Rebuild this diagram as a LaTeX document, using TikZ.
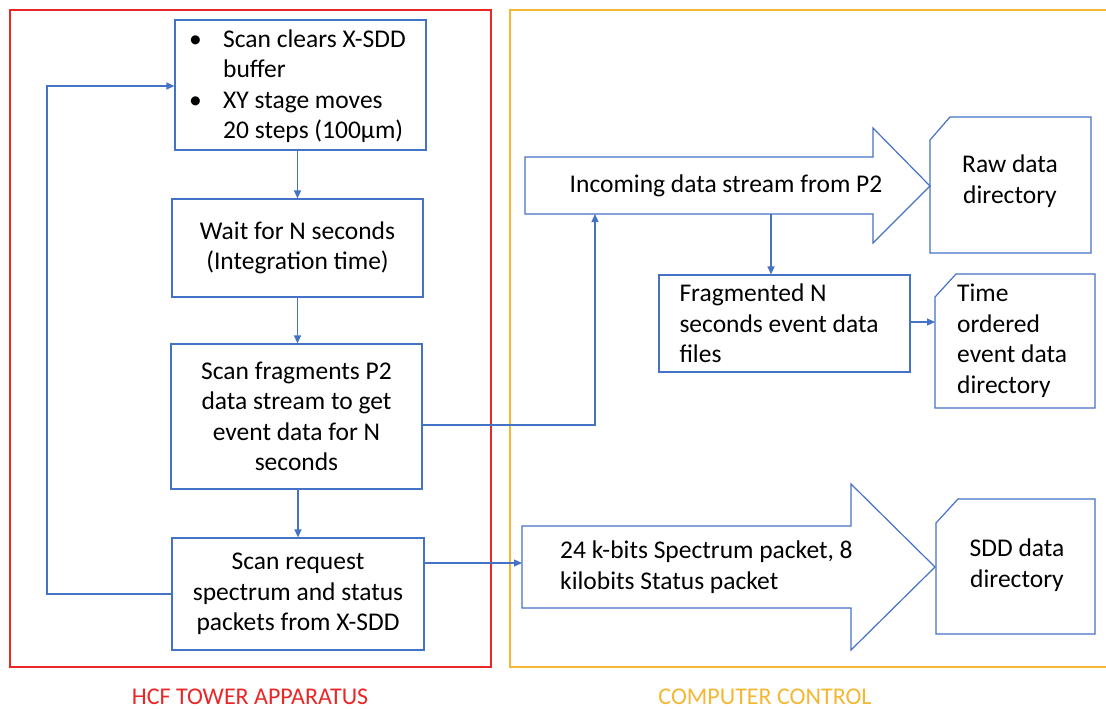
\documentclass[tikz,border=0pt]{standalone}
\usepackage{fontspec}
\setmainfont{Carlito}
\usetikzlibrary{arrows.meta}
\definecolor{bl}{RGB}{68,114,196}
\definecolor{rd}{RGB}{234,38,38}
\definecolor{og}{RGB}{244,183,49}
\begin{document}
\begin{tikzpicture}[x=1pt,y=-1pt,
  boxfont/.style={font=\fontsize{25.5}{30.5}\selectfont},
  box/.style={draw=bl, line width=1.2pt, inner sep=0pt, align=center, boxfont},
  txt/.style={inner sep=0pt, boxfont},
  shapeline/.style={draw=bl, line width=1.2pt, line join=miter},
  conn/.style={draw=bl, line width=1.2pt, -{Triangle[length=8pt,width=7pt]}},
  frame/.style={line width=2pt},
  lbl/.style={inner sep=0pt, font=\fontsize{24}{29}\selectfont}]
\useasboundingbox (0,0) rectangle (1106,709);

% frames
\draw[frame, draw=rd] (10,10) rectangle (491,667);
\draw[frame, draw=og] (510,10) rectangle (1112,667);
\node[lbl, text=rd] (lblA) at (250,697) {HCF TOWER APPARATUS};
\node[lbl, text=og] (lblB) at (765,697) {COMPUTER CONTROL};

% left column boxes
\node[box, minimum width=251pt, minimum height=130pt] (b1) at (300.5,85) {};
\node[txt, anchor=west] (b1t) at (189,87) {\begin{tabular}{@{}p{34pt}@{}l@{}}
\textbullet & Scan clears X-SDD\\
 & buffer\\
\textbullet & XY stage moves\\
 & 20 steps (100µm)
\end{tabular}};
\node[box, minimum width=251pt, minimum height=98pt] (b2) at (297.5,248)
  {Wait for N seconds\\(Integration time)};
\node[box, minimum width=251pt, minimum height=145pt] (b3) at (296.5,416.5)
  {Scan fragments P2\\data stream to get\\event data for N\\seconds};
\node[box, minimum width=252pt, minimum height=112pt] (b4) at (298,594)
  {Scan request\\spectrum and status\\packets from X-SDD};

% incoming arrow shape
\draw[shapeline] (525,157) -- (873,157) -- (873,128) -- (930,186) -- (873,243)
  -- (873,214) -- (525,214) -- cycle;
\node[txt] (inc) at (726,186) {Incoming data stream from P2};

% spectrum arrow shape
\draw[shapeline] (522,526) -- (851,526) -- (851,484) -- (935,567) -- (851,650)
  -- (851,608) -- (522,608) -- cycle;
\node[txt, anchor=west, align=flush left] (spec) at (560,567)
  {24 k-bits Spectrum packet, 8\\kilobits Status packet};

% raw data directory
\draw[shapeline] (930,140) -- (950,117) -- (1091,117) -- (1091,253) -- (930,253) -- cycle;
\node[txt, align=center] (raw) at (1010,181) {Raw data\\directory};

% fragmented box
\node[box, minimum width=251pt, minimum height=97pt, align=flush left, text width=210pt] (frag)
  at (784.5,323.5) {Fragmented N\\seconds event data\\files};

% time ordered directory
\draw[shapeline] (935,297) -- (956,274) -- (1095,274) -- (1095,408) -- (935,408) -- cycle;
\node[txt, anchor=west, align=flush left] (tod) at (957,341)
  {Time\\ordered\\event data\\directory};

% SDD data directory
\draw[shapeline] (936,523) -- (958,499) -- (1095,499) -- (1095,634) -- (936,634) -- cycle;
\node[txt, align=center] (sdd) at (1017,565) {SDD data\\directory};

% connector points
\coordinate (loopL) at (47,86);
\coordinate (j1) at (595,425);
\coordinate (incB) at (595,214);
\coordinate (incD) at (771,214);
\coordinate (spL) at (522,563);
\coordinate (todL) at (935,322);

% connectors
\draw[conn] (b1.south -| b2.north) -- (b2.north);
\draw[conn] (b2.south) -- (b2.south |- b3.north);
\draw[conn] (b3.south -| b4.north) -- (b4.north);
\draw[conn] (b4.west) -| (loopL) -- (loopL -| b1.west);
\draw[conn] (j1 -| b3.east) -- (j1) -- (incB);
\draw[conn] (spL -| b4.east) -- (spL);
\draw[conn] (incD) -- (incD |- frag.north);
\draw[conn] (todL -| frag.east) -- (todL);
\end{tikzpicture}
\end{document}
